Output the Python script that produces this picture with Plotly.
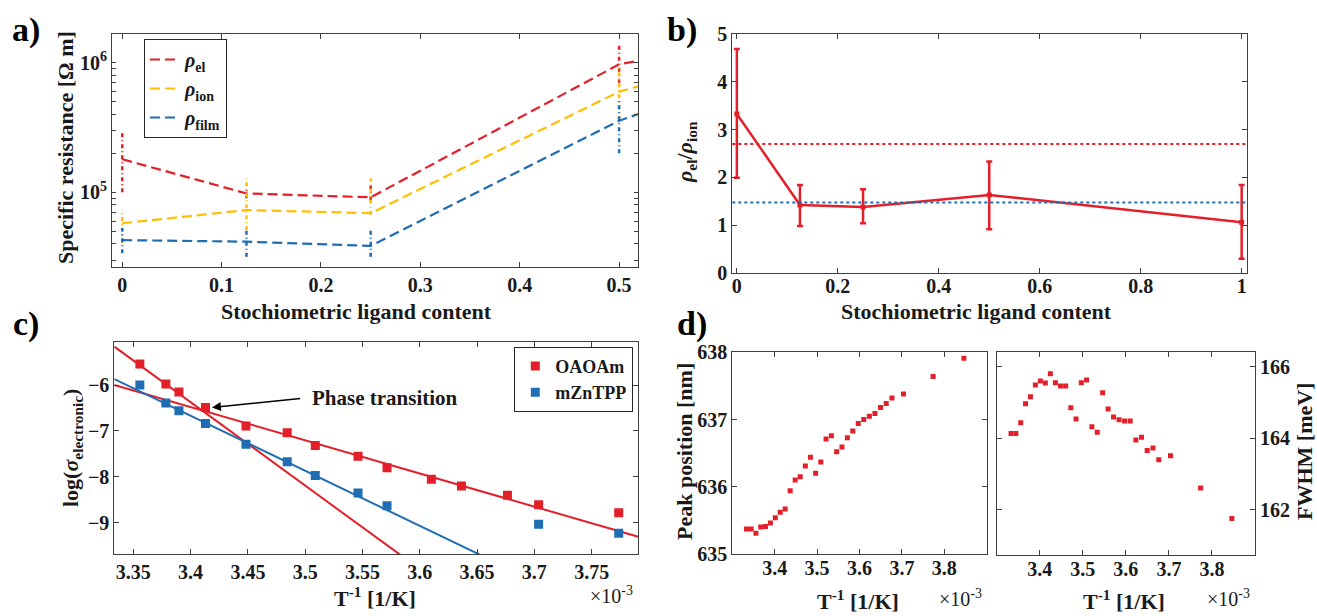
import plotly.graph_objects as go

W, H = 1317, 616

# ---------------- data ----------------
# panel a: specific resistance vs ligand content
lig_a = [0, 0.125, 0.25, 0.5, 1.0]
rho_el = [1.8e5, 9.8e4, 9.15e4, 9.7e5, 5.0e6]
rho_el_lo = [1.0e5, 9.0e4, 8.7e4, 7.0e5, 3.0e6]
rho_el_hi = [2.9e5, 1.05e5, 1.14e5, 1.42e6, 8.0e6]
rho_ion = [5.77e4, 7.3e4, 6.9e4, 5.97e5, 7.0e6]
rho_ion_lo = [4.05e4, 5.1e4, 6.7e4, 3.6e5, 4.0e6]
rho_ion_hi = [7.3e4, 1.28e5, 1.28e5, 9.6e5, 1.0e7]
rho_film = [4.28e4, 4.16e4, 3.86e4, 3.56e5, 8.0e6]
rho_film_lo = [3.39e4, 3.18e4, 3.18e4, 2.0e5, 5.0e6]
rho_film_hi = [5.3e4, 5.3e4, 5.3e4, 5.1e5, 1.2e7]

# panel b: ratio rho_el / rho_ion
lig_b = [0, 0.125, 0.25, 0.5, 1.0]
ratio = [3.33, 1.42, 1.38, 1.63, 1.06]
ratio_hi = [4.69, 1.84, 1.75, 2.33, 1.84]
ratio_lo = [1.99, 0.98, 1.035, 0.91, 0.29]
ref_red = 2.70
ref_blue = 1.47

# panel c: log conductivity vs inverse temperature (x 1e-3)
invT_oa = [3.3557, 3.3784, 3.3898, 3.4130, 3.4483, 3.4843, 3.5088, 3.5461,
           3.5714, 3.6101, 3.6364, 3.6765, 3.7037, 3.7736]
logsig_oa = [-5.54, -5.98, -6.15, -6.49, -6.89, -7.04, -7.32, -7.55,
             -7.80, -8.05, -8.20, -8.40, -8.61, -8.78]
invT_zn = [3.3557, 3.3784, 3.3898, 3.4130, 3.4483, 3.4843, 3.5088, 3.5461,
           3.5714, 3.7037, 3.7736]
logsig_zn = [-6.00, -6.39, -6.56, -6.84, -7.29, -7.67, -7.97, -8.35,
             -8.63, -9.03, -9.23]
# linear fits: (slope, value at x=3.4)
fit_oa_hot = (-18.16, -6.375)
fit_oa_cold = (-7.227, -6.481)
fit_zn = (-11.99, -6.669)

# panel d: PL peak position and FWHM vs inverse temperature (x 1e-3)
invT_d = [3.3333, 3.3445, 3.3557, 3.3670, 3.3784, 3.3898, 3.4014, 3.4130,
          3.4247, 3.4364, 3.4483, 3.4602, 3.4722, 3.4843, 3.4965, 3.5088,
          3.5211, 3.5336, 3.5461, 3.5587, 3.5714, 3.5842, 3.5971, 3.6101,
          3.6232, 3.6364, 3.6496, 3.6630, 3.6765, 3.7037, 3.7736, 3.8462]
peak = [635.37, 635.37, 635.31, 635.40, 635.41, 635.46, 635.54, 635.62,
        635.67, 635.94, 636.10, 636.15, 636.31, 636.44, 636.20, 636.37,
        636.71, 636.76, 636.52, 636.59, 636.73, 636.83, 636.94, 637.00,
        637.05, 637.09, 637.18, 637.24, 637.32, 637.38, 637.64, 637.91]
fwhm = [164.13, 164.13, 164.43, 164.96, 165.16, 165.49, 165.60, 165.54,
        165.80, 165.55, 165.46, 165.46, 164.85, 164.54, 165.55, 165.63,
        164.32, 164.17, 165.27, 164.82, 164.59, 164.52, 164.48, 164.48,
        163.95, 164.03, 163.66, 163.73, 163.40, 163.51, 162.61, 161.76]

# ---------------- style ----------------
RED = "#E3202A"
YEL = "#FFBF00"
BLU = "#1F6DB3"
AX = "#404040"
FAM = "Times New Roman, Liberation Serif, serif"
TICKF = dict(family=FAM, size=20, color="#1a1a1a", weight="bold")
TITF = dict(family=FAM, size=22, color="#1a1a1a", weight="bold")


def px(x):
    return x / W


def py(y):
    return 1 - y / H


fig = go.Figure()

# ---------- panel a ----------
def err_segments(xs, lo, hi):
    xx, yy = [], []
    for x, a, b in zip(xs, lo, hi):
        xx += [x, x, None]
        yy += [a, b, None]
    return xx, yy

for name, vals, lo, hi, col in [
    ("<i>ρ</i><sub>el</sub>", rho_el, rho_el_lo, rho_el_hi, RED),
    ("<i>ρ</i><sub>ion</sub>", rho_ion, rho_ion_lo, rho_ion_hi, YEL),
    ("<i>ρ</i><sub>film</sub>", rho_film, rho_film_lo, rho_film_hi, BLU),
]:
    fig.add_trace(go.Scatter(x=lig_a, y=vals, mode="lines", name=name,
                             line=dict(color=col, width=2.2, dash="10px,5px"),
                             xaxis="x", yaxis="y", legend="legend"))
    ex, ey = err_segments(lig_a, lo, hi)
    fig.add_trace(go.Scatter(x=ex, y=ey, mode="lines", showlegend=False,
                             line=dict(color=col, width=2.5, dash="4px,3px,1px,3px"),
                             xaxis="x", yaxis="y"))

# ---------- panel b ----------
fig.add_trace(go.Scatter(
    x=lig_b, y=ratio, mode="lines+markers", showlegend=False,
    line=dict(color=RED, width=2.5),
    marker=dict(symbol="square", size=5, color=RED),
    error_y=dict(type="data", symmetric=False,
                 array=[h - r for h, r in zip(ratio_hi, ratio)],
                 arrayminus=[r - l for r, l in zip(ratio, ratio_lo)],
                 color=RED, thickness=2.5, width=3),
    xaxis="x2", yaxis="y2"))

# ---------- panel c ----------
c_range = [3.3334, 3.7907]
for slope, y0, col in [(fit_oa_hot[0], fit_oa_hot[1], RED),
                       (fit_oa_cold[0], fit_oa_cold[1], RED),
                       (fit_zn[0], fit_zn[1], BLU)]:
    fx = c_range
    fy = [y0 + slope * (x - 3.4) for x in fx]
    fig.add_trace(go.Scatter(x=fx, y=fy, mode="lines", showlegend=False,
                             line=dict(color=col, width=2),
                             xaxis="x3", yaxis="y3"))
fig.add_trace(go.Scatter(x=invT_oa, y=logsig_oa, mode="markers", name="OAOAm",
                         marker=dict(symbol="square", size=9, color=RED),
                         xaxis="x3", yaxis="y3", legend="legend2"))
fig.add_trace(go.Scatter(x=invT_zn, y=logsig_zn, mode="markers", name="mZnTPP",
                         marker=dict(symbol="square", size=9, color=BLU),
                         xaxis="x3", yaxis="y3", legend="legend2"))

# ---------- panel d ----------
fig.add_trace(go.Scatter(x=invT_d, y=peak, mode="markers", showlegend=False,
                         marker=dict(symbol="square", size=5, color=RED),
                         xaxis="x4", yaxis="y4"))
fig.add_trace(go.Scatter(x=invT_d, y=fwhm, mode="markers", showlegend=False,
                         marker=dict(symbol="square", size=5, color=RED),
                         xaxis="x5", yaxis="y5"))


def axis(domain, rng, anchor, **kw):
    d = dict(domain=domain, range=rng, anchor=anchor, showline=True,
             linecolor=AX, linewidth=1, mirror="allticks", ticks="inside",
             ticklen=5, tickwidth=1, tickcolor=AX, showgrid=False,
             zeroline=False, tickfont=TICKF, automargin=False)
    d.update(kw)
    return d

log_minor = []
for dec in [1e4, 1e5, 1e6]:
    for m in range(1, 10):
        log_minor.append(m * dec)
log_text = []
for v in log_minor:
    if v == 1e5:
        log_text.append("10<sup>5</sup>")
    elif v == 1e6:
        log_text.append("10<sup>6</sup>")
    else:
        log_text.append("")

fig.update_layout(
    width=W, height=H, autosize=False,
    margin=dict(l=0, r=0, t=0, b=0, pad=0, autoexpand=False),
    paper_bgcolor="white", plot_bgcolor="white",
    xaxis=axis([px(112), px(638)], [-0.0103, 0.519], "y",
               tickvals=[0, 0.1, 0.2, 0.3, 0.4, 0.5]),
    yaxis=axis([py(267), py(34)], [4.424, 6.221], "x", type="log",
               tickvals=log_minor, ticktext=log_text, ticklen=4),
    xaxis2=axis([px(732.3), px(1246.7)], [-0.009, 1.01], "y2",
                tickvals=[0, 0.2, 0.4, 0.6, 0.8, 1], ticklabelstandoff=-5),
    yaxis2=axis([py(272.7), py(34.3)], [0, 5], "x2", dtick=1),
    xaxis3=axis([px(114.3), px(638.3)], c_range, "y3",
                tickvals=[3.35, 3.4, 3.45, 3.5, 3.55, 3.6, 3.65, 3.7, 3.75],
                ticktext=["3.35", "3.4", "3.45", "3.5", "3.55", "3.6", "3.65", "3.7", "3.75"]),
    yaxis3=axis([py(554), py(341.7)], [-9.68, -5.057], "x3",
                tickvals=[-9, -8, -7, -6]),
    xaxis4=axis([px(732.3), px(986.7)], [3.3, 3.9], "y4",
                tickvals=[3.4, 3.5, 3.6, 3.7, 3.8], ticklabelstandoff=-4),
    yaxis4=axis([py(554), py(352.3)], [635, 638], "x4", dtick=1),
    xaxis5=axis([px(996.7), px(1255)], [3.3, 3.9], "y5",
                tickvals=[3.4, 3.5, 3.6, 3.7, 3.8], ticklabelstandoff=-4),
    yaxis5=axis([py(555), py(352.3)], [160.74, 166.40], "x5", side="right",
                tickvals=[162, 164, 166]),
    legend=dict(x=px(144), y=py(39), xanchor="left", yanchor="top",
                bgcolor="white", bordercolor="#262626", borderwidth=1,
                font=dict(family=FAM, size=20, color="#1a1a1a", weight="bold"),
                itemwidth=30, tracegroupgap=0),
    legend2=dict(x=px(633.3), y=py(346.7), xanchor="right", yanchor="top",
                 bgcolor="white", bordercolor="#262626", borderwidth=1,
                 font=dict(family=FAM, size=18, color="#1a1a1a", weight="bold"),
                 itemwidth=30, tracegroupgap=0),
    shapes=[
        dict(type="line", xref="x2 domain", yref="y2", x0=0, x1=1,
             y0=ref_red, y1=ref_red, line=dict(color=RED, width=2, dash="dot")),
        dict(type="line", xref="x2 domain", yref="y2", x0=0, x1=1,
             y0=ref_blue, y1=ref_blue, line=dict(color=BLU, width=2, dash="dot")),
    ],
)

ann = []
LABF = dict(family=FAM, size=34, color="black", weight="bold")
for t, x, y in [("a)", 26, 30), ("b)", 682, 30), ("c)", 26, 324), ("d)", 692, 324)]:
    ann.append(dict(text=t, x=px(x), y=py(y), xref="paper", yref="paper",
                    showarrow=False, font=LABF, xanchor="center", yanchor="middle"))

def title(text, x, y, angle=0):
    return dict(text=text, x=px(x), y=py(y), xref="paper", yref="paper",
                showarrow=False, font=TITF, textangle=angle,
                xanchor="center", yanchor="middle")

ann += [
    title("Stochiometric ligand content", 356, 311),
    title("Stochiometric ligand content", 976, 311),
    title("Specific resistance [Ω m]", 65, 148, -90),
    title("<i>ρ</i><sub>el</sub>/<i>ρ</i><sub>ion</sub>", 686, 152, -90),
    title("log(<i>σ</i><sub>electronic</sub>)", 72, 448, -90),
    title("Peak position [nm]", 684, 452, -90),
    title("FWHM [meV]", 1304, 452, -90),
    title("T<sup>-1</sup> [1/K]", 375, 597),
    title("T<sup>-1</sup> [1/K]", 858, 600),
    title("T<sup>-1</sup> [1/K]", 1124, 600),
]
for xc, yc in [(611, 595), (960, 598), (1228, 598)]:
    ann.append(dict(text="×10<sup>-3</sup>", x=px(xc), y=py(yc), xref="paper",
                    yref="paper", showarrow=False,
                    font=dict(family=FAM, size=20, color="#1a1a1a"),
                    xanchor="center", yanchor="middle"))
ann.append(dict(text="Phase transition", x=3.5043, y=-6.29, xref="x3", yref="y3",
                xanchor="left", yanchor="middle", showarrow=False,
                font=dict(family=FAM, size=21, color="#1a1a1a", weight="bold")))
ann.append(dict(text="", x=3.4186, y=-6.49, ax=3.497, ay=-6.29, xref="x3", yref="y3",
                axref="x3", ayref="y3", showarrow=True, arrowhead=2, arrowsize=1.2,
                arrowwidth=1.5, arrowcolor="black"))
fig.update_layout(annotations=ann)

fig.write_html("out.html", config={"displayModeBar": False},
               post_script="document.body.style.margin='0';document.body.style.overflow='hidden';")
